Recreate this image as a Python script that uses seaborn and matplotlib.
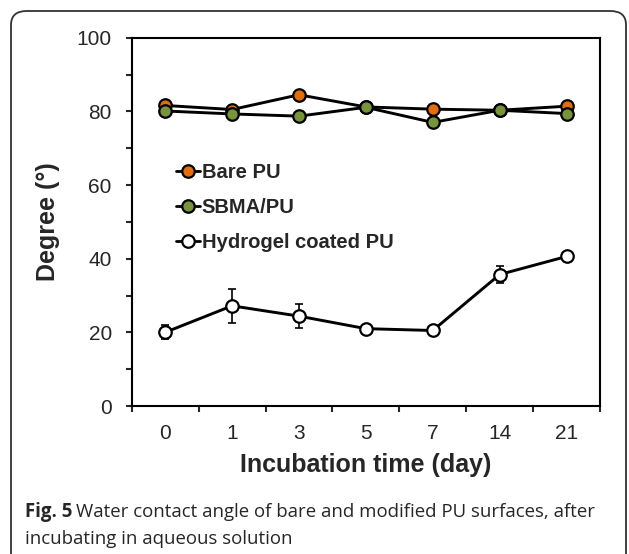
import matplotlib
matplotlib.use("Agg")
import matplotlib.pyplot as plt
from matplotlib.patches import FancyBboxPatch
from matplotlib.lines import Line2D
import seaborn as sns
import numpy as np
import pandas as pd

# data
days = ["0", "1", "3", "5", "7", "14", "21"]
bare_pu = [81.6, 80.5, 84.5, 81.2, 80.6, 80.3, 81.4]
sbma_pu = [80.1, 79.3, 78.7, 81.1, 77.0, 80.3, 79.4]
hydrogel = [20.0, 27.2, 24.4, 21.0, 20.5, 35.7, 40.6]
hydrogel_err = [1.9, 4.7, 3.2, 0.4, 0.4, 2.4, 0.4]

series_names = ["Bare PU", "SBMA/PU", "Hydrogel coated PU"]
face_colors = ["#E46C0A", "#77933C", "white"]

sns.set_style("ticks")
plt.rcParams["font.family"] = ["Liberation Sans", "DejaVu Sans"]

fig = plt.figure(figsize=(6.29, 5.54), dpi=100)
ax = fig.add_axes([131.7 / 629, 1 - 406 / 554, (600 - 131.7) / 629, (406 - 37.7) / 554])

pos = np.arange(len(days))
df = pd.DataFrame({"pos": pos, "Bare PU": bare_pu, "SBMA/PU": sbma_pu,
                   "Hydrogel coated PU": hydrogel})

ax.errorbar(pos, hydrogel, yerr=hydrogel_err, fmt="none", ecolor="black",
            elinewidth=1.2, capsize=3, capthick=1.2, zorder=1)

for name, fc in zip(series_names, face_colors):
    sns.lineplot(data=df, x="pos", y=name, ax=ax, color="black", linewidth=2.1,
                 marker="o", markersize=9, markerfacecolor=fc,
                 markeredgecolor="black", markeredgewidth=1.6, zorder=3)

ax.set_xlim(-0.5, len(days) - 0.5)
ax.set_ylim(0, 100)
ax.set_xticks(np.arange(-0.5, len(days), 1.0))
ax.set_xticklabels([])
ax.set_xticks(pos, minor=True)
ax.set_xticklabels(days, minor=True)
ax.tick_params(axis="x", which="minor", length=0, pad=13, labelsize=15)
ax.tick_params(axis="x", which="major", length=4.3, width=1.5, direction="out")
ax.set_yticks(np.arange(0, 101, 20))
ax.set_yticks(np.arange(10, 100, 20), minor=True)
ax.tick_params(axis="y", which="both", length=4.3, width=1.5, direction="out",
               labelsize=15, pad=10)
for sp in ax.spines.values():
    sp.set_visible(True)
    sp.set_linewidth(1.5)
    sp.set_color("black")

ax.set_xlabel("Incubation time (day)", fontsize=18, fontweight="bold", labelpad=7)
ax.set_ylabel("Degree (°)", fontsize=18, fontweight="bold", labelpad=12)

handles = [Line2D([], [], color="black", linewidth=2.0, marker="o", markersize=9,
                  markerfacecolor=fc, markeredgecolor="black", markeredgewidth=1.6)
           for fc in face_colors]
ax.legend(handles, series_names, loc="upper left", bbox_to_anchor=(0.055, 0.71),
          frameon=False, handlelength=1.2, handletextpad=0.1, labelspacing=0.8,
          prop={"weight": "bold", "size": 14.5})

# caption box and text
box = FancyBboxPatch((11 / 629, -0.1), 615 / 629, 1 - 11 / 554 + 0.1,
                     boxstyle="round,pad=0,rounding_size=0.025",
                     transform=fig.transFigure, fill=False,
                     edgecolor="#333333", linewidth=1.3)
fig.patches.append(box)

cap_font = ["Open Sans", "DejaVu Sans"]
t1 = fig.text(25 / 629, 1 - 512 / 554, "Fig. 5", fontsize=13.4, fontweight="bold",
              family=cap_font, va="center", ha="left")
fig.canvas.draw()
bb = t1.get_window_extent()
fig.text((bb.x1 + 4) / 629, 1 - 512 / 554,
         "Water contact angle of bare and modified PU surfaces, after",
         fontsize=13.4, family=cap_font, va="center", ha="left")
fig.text(25 / 629, 1 - 539 / 554, "incubating in aqueous solution",
         fontsize=13.4, family=cap_font, va="center", ha="left")

fig.savefig("out.png", dpi=100)
